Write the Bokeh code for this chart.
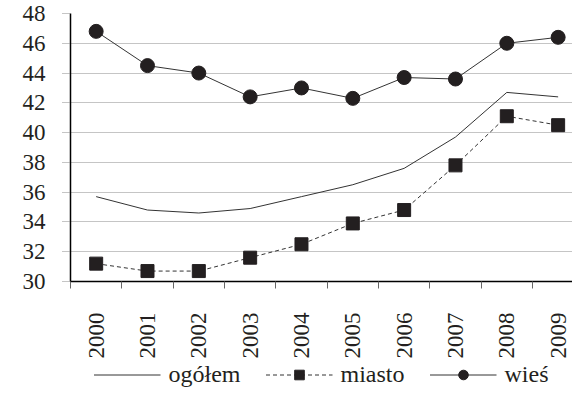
import math
from bokeh.plotting import figure
from bokeh.layouts import column
from bokeh.models import FixedTicker, Legend, LegendItem, Range1d
from bokeh.embed import file_html
from bokeh.resources import INLINE

years = ["2000", "2001", "2002", "2003", "2004", "2005", "2006", "2007", "2008", "2009"]
ogolem = [35.7, 34.8, 34.6, 34.9, 35.7, 36.5, 37.6, 39.7, 42.7, 42.4]
miasto = [31.2, 30.7, 30.7, 31.6, 32.5, 33.9, 34.8, 37.8, 41.1, 40.5]
wies = [46.8, 44.5, 44.0, 42.4, 43.0, 42.3, 43.7, 43.6, 46.0, 46.4]
y_ticks = [30, 32, 34, 36, 38, 40, 42, 44, 46, 48]
series_names = ["ogółem", "miasto", "wieś"]

FONT = "Liberation Serif"
INK = "#231f20"
LINE = "#333333"

xs = list(range(len(years)))

p = figure(width=572, height=361, output_backend="svg", toolbar_location=None,
           x_range=Range1d(-0.5, 9.28), y_range=Range1d(30, 48),
           min_border_left=49, min_border_right=0, min_border_top=13,
           min_border_bottom=78)
p.outline_line_color = None
p.background_fill_color = "white"
p.border_fill_color = "white"

p.xgrid.visible = False
p.ygrid.ticker = FixedTicker(ticks=y_ticks[1:])
p.ygrid.grid_line_color = "#8a8a8a"
p.ygrid.grid_line_dash = "1 1"
p.ygrid.grid_line_width = 1

ya = p.yaxis[0]
ya.ticker = FixedTicker(ticks=y_ticks)
ya.axis_line_color = "black"
ya.axis_line_width = 1.5
ya.major_tick_out = 8
ya.major_tick_in = 0
ya.major_tick_line_color = "#8a8a8a"
ya.major_tick_line_dash = "1 1"
ya.minor_tick_line_color = None
ya.major_label_standoff = 17
ya.major_label_text_font = FONT
ya.major_label_text_font_size = "23px"
ya.major_label_text_color = INK

xa = p.xaxis[0]
xa.ticker = FixedTicker(ticks=xs, minor_ticks=[i - 0.5 for i in range(len(years))])
xa.major_label_overrides = {i: y for i, y in enumerate(years)}
xa.major_label_orientation = math.pi / 2
xa.axis_line_color = "black"
xa.axis_line_width = 1.5
xa.major_tick_line_color = None
xa.major_tick_out = 0
xa.major_tick_in = 0
xa.minor_tick_line_color = "#666666"
xa.minor_tick_out = 7
xa.minor_tick_in = 0
xa.major_label_standoff = 24
xa.major_label_text_font = FONT
xa.major_label_text_font_size = "23px"
xa.major_label_text_color = INK

p.line(xs, ogolem, line_color=LINE, line_width=1)
p.line(xs, miasto, line_color=LINE, line_width=1, line_dash="4 3")
p.scatter(xs, miasto, marker="square", size=13, fill_color=INK, line_color=INK)
p.line(xs, wies, line_color=LINE, line_width=1)
p.scatter(xs, wies, marker="circle", size=14, fill_color=INK, line_color=INK)

# legend strip
q = figure(width=572, height=26, output_backend="svg", toolbar_location=None,
           x_range=Range1d(0, 1), y_range=Range1d(0, 1),
           x_axis_type=None, y_axis_type=None,
           min_border_left=70, min_border_right=0, min_border_top=0, min_border_bottom=0)
q.grid.visible = False
q.outline_line_color = None
q.background_fill_color = "white"
q.border_fill_color = "white"
hx, hy = [-5], [-5]
l_og = q.line(hx, hy, line_color=LINE, line_width=1)
l_mi = q.line(hx, hy, line_color=LINE, line_width=1, line_dash="4 3")
m_mi = q.scatter(hx, hy, marker="square", size=13, fill_color=INK, line_color=INK)
l_wi = q.line(hx, hy, line_color=LINE, line_width=1)
m_wi = q.scatter(hx, hy, marker="circle", size=14, fill_color=INK, line_color=INK)

legend = Legend(items=[
    LegendItem(label=series_names[0], renderers=[l_og]),
    LegendItem(label=series_names[1], renderers=[l_mi, m_mi]),
    LegendItem(label=series_names[2], renderers=[l_wi, m_wi]),
], orientation="horizontal", location="center")
legend.label_text_font = FONT
legend.label_text_font_size = "24px"
legend.label_text_color = INK
legend.glyph_width = 67
legend.glyph_height = 24
legend.label_standoff = 8
legend.spacing = 25
legend.padding = 0
legend.margin = 0
legend.border_line_color = None
legend.background_fill_alpha = 0
q.add_layout(legend, "center")

layout = column(p, q, spacing=0)
open("out.html", "w").write(file_html(layout, INLINE))
